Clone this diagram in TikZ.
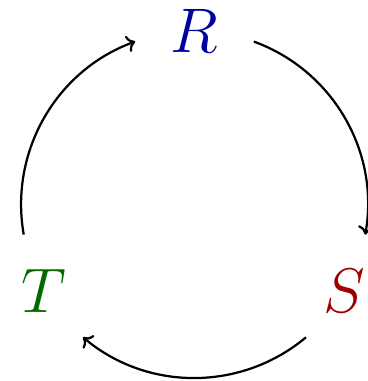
\RequirePackage{fix-cm}
\documentclass[tikz,border=0pt]{standalone}
\usetikzlibrary{arrows.meta}
\definecolor{rcol}{HTML}{0000A0}
\definecolor{scol}{HTML}{A00000}
\definecolor{tcol}{HTML}{006A00}

\begin{document}
\begin{tikzpicture}[
    font=\fontsize{31}{36}\selectfont,
    vtx/.style={inner sep=0pt,text=#1},
    cyc/.style={->,line width=1.1pt},
  ]
\useasboundingbox (-3.365,-3.054) rectangle (3.0,3.538);

% the three states on a circle
\node[vtx=rcol] (R) at (90:3)  {$R$};
\node[vtx=scol] (S) at (-30:3) {$S$};
\node[vtx=tcol] (T) at (210:3) {$T$};

% arc start points, 20 degrees past each state
\coordinate (rs) at (70:3);
\coordinate (st) at (-50:3);
\coordinate (tr) at (190:3);

% clockwise cycle R -> S -> T -> R
\draw[cyc] (rs) arc[start angle=70,end angle=-10,radius=3];
\draw[cyc] (st) arc[start angle=-50,end angle=-130,radius=3];
\draw[cyc] (tr) arc[start angle=190,end angle=110,radius=3];

\end{tikzpicture}
\end{document}
